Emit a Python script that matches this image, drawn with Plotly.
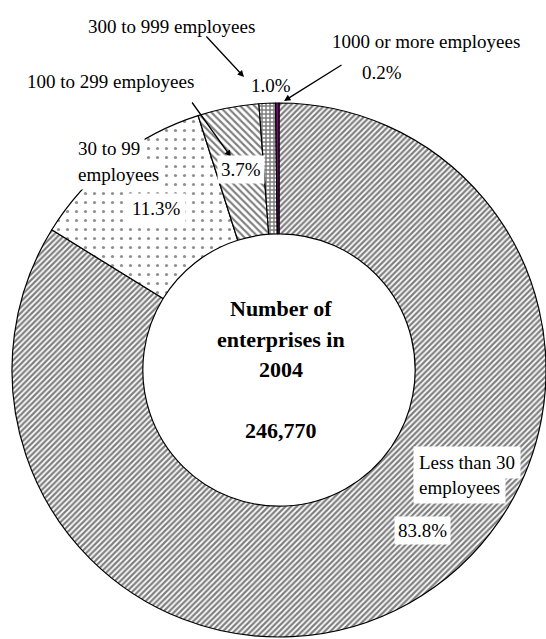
import plotly.graph_objects as go

# Enterprises by size class, 2004
categories = [
    "Less than 30 employees",
    "30 to 99 employees",
    "100 to 299 employees",
    "300 to 999 employees",
    "1000 or more employees",
]
shares = [83.8, 11.3, 3.7, 1.0, 0.2]
total_enterprises = 246770
year = 2004

W, H = 546, 639
SERIF = "Liberation Serif, Times New Roman, serif"


def px(x, y):
    """Pixel position (from top-left) to paper coordinates."""
    return x / W, 1 - y / H


def pct(v):
    return f"{v:.1f}%"


# Donut geometry (pixels)
cx, cy, r = 279, 370, 267
x0, y0 = px(cx - r, cy - r)
x1, y1 = px(cx + r, cy + r)

fig = go.Figure(
    go.Pie(
        labels=categories,
        values=shares,
        sort=False,
        direction="clockwise",
        rotation=0,
        hole=0.51,
        textinfo="none",
        hoverinfo="label+percent",
        showlegend=False,
        domain=dict(x=[max(x0, 0), min(x1, 1)], y=[max(y1, 0), min(y0, 1)]),
        marker=dict(
            colors=["white", "white", "white", "white", "#7a0a78"],
            line=dict(color="black", width=1.2),
            pattern=dict(
                shape=["/", ".", "\\", "+", ""],
                size=[4, 9, 5, 4, 6],
                solidity=[0.55, 0.1, 0.42, 0.6, 0.3],
                fgcolor=["black", "#222222", "black", "black", "#7a0a78"],
                bgcolor=["white", "white", "white", "white", "#7a0a78"],
                fillmode="overlay",
            ),
        ),
    )
)

annotations = []


def label(text, x, y, anchor="center", size=19, bold=False, bg=None, pad=1):
    ax_, ay_ = px(x, y)
    annotations.append(dict(
        x=ax_, y=ay_, xref="paper", yref="paper", text=f"<b>{text}</b>" if bold else text,
        showarrow=False, xanchor=anchor, yanchor="middle",
        font=dict(family=SERIF, size=size, color="black"),
        bgcolor=bg, borderpad=pad,
    ))


def arrow(tail, head):
    hx, hy = px(*head)
    annotations.append(dict(
        x=hx, y=hy, xref="paper", yref="paper", text="",
        showarrow=True, ax=tail[0] - head[0], ay=tail[1] - head[1],
        axref="pixel", ayref="pixel",
        arrowhead=2, arrowsize=1, arrowwidth=1.3, arrowcolor="black", standoff=0,
    ))


# Outside labels with leader arrows
label(categories[3], 171, 26)
arrow((205, 35), (244, 77))
label(pct(shares[3]), 271, 85)

label(categories[4], 426, 41)
label(pct(shares[4]), 382, 73)
arrow((343, 64), (284, 101))

label(categories[2], 110, 81)
arrow((191, 101), (231, 157))
label(pct(shares[2]), 241, 169, bg="white", pad=3)

label("30 to 99", 73, 148, anchor="left", bg="white", pad=4)
label("employees", 73, 175, anchor="left", bg="white", pad=4)
label(pct(shares[1]), 156, 208, bg="white", pad=4)

label("Less than 30", 413, 462, anchor="left", bg="white", pad=5)
label("employees", 413, 487, anchor="left", bg="white", pad=5)
label(pct(shares[0]), 422, 530, bg="white", pad=3)

# Centre caption
label("Number of", cx + 2, 308, size=22, bold=True)
label("enterprises in", cx + 2, 339, size=22, bold=True)
label(str(year), cx + 2, 369, size=22, bold=True)
label(f"{total_enterprises:,}", cx + 2, 430, size=22, bold=True)

fig.update_layout(
    width=W, height=H,
    margin=dict(l=0, r=0, t=0, b=0),
    paper_bgcolor="white", plot_bgcolor="white",
    annotations=annotations,
)

fig.write_html("out.html")
